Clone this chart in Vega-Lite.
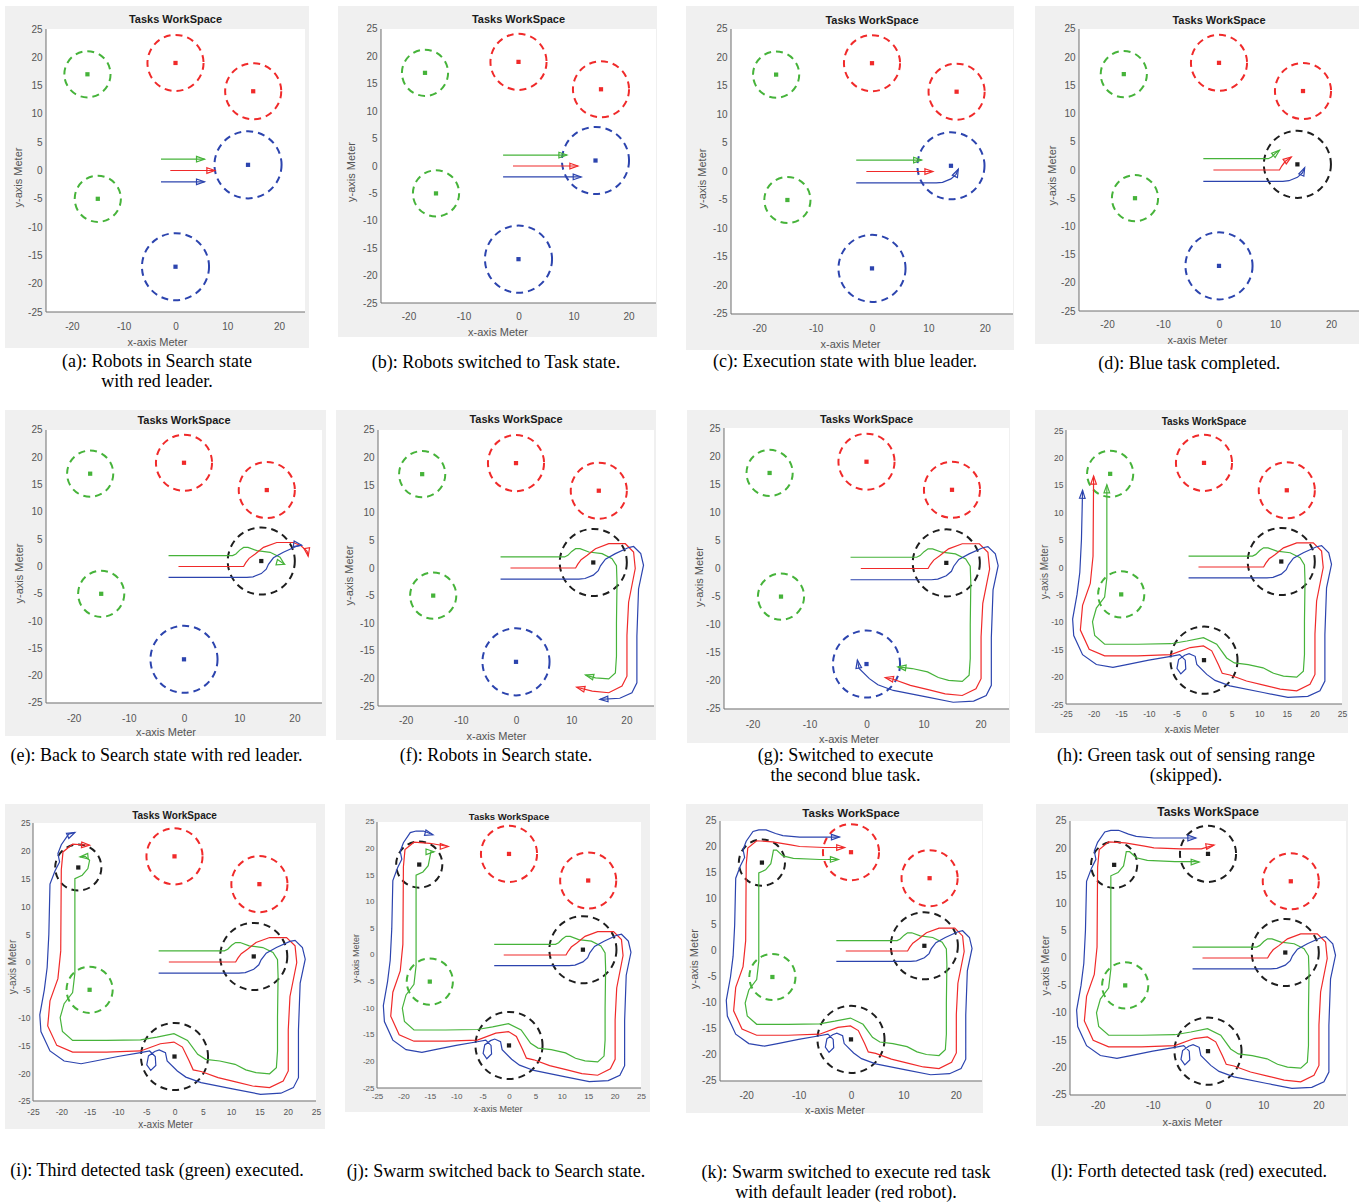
{
"$schema":"https://vega.github.io/schema/vega-lite/v6.json",
"background":"#ffffff",
"padding":{"left":5,"top":6,"right":0,"bottom":0},
"spacing":18,
"config":{"view":{"stroke":null},
"locale":{"number":{"decimal":".","thousands":",","grouping":[3],"currency":["",""],"minus":"-"}},
"axis":{"grid":false,"domain":false,"ticks":false,"labelFont":"Liberation Sans","titleFont":"Liberation Sans","labelColor":"#555555","titleColor":"#555555","titleFontWeight":"normal","labelFlush":false,"labelOverlap":false,"labelFontSize":10,"titleFontSize":11},
"title":{"font":"Liberation Sans","fontWeight":"bold","color":"#1a1a1a","fontSize":11,"anchor":"middle"},
"point":{"opacity":1},"line":{"strokeWidth":1.2}},
"datasets":{
"tasks":[{"x":-17,"y":17,"rad":4.2,"c":"g","k":1,"e":8},{"x":-17,"y":17,"rad":4.2,"c":"k","k":9},{"x":-15,"y":-5,"rad":4.2,"c":"g","k":1},{"x":0,"y":19,"rad":5.1,"c":"r","k":1,"e":11},{"x":0,"y":19,"rad":5.1,"c":"k","k":12},{"x":15,"y":14,"rad":5.1,"c":"r","k":1},{"x":14,"y":1,"rad":6.1,"c":"b","k":1,"e":3},{"x":14,"y":1,"rad":6.1,"c":"k","k":4},{"x":0,"y":-17,"rad":6.1,"c":"b","k":1,"e":7},{"x":0,"y":-17,"rad":6.1,"c":"k","k":8}],
"paths":[
{"c":"g","i":1,"x":-2.8,"y":2,"k":1},{"c":"g","i":2,"x":5.6,"y":2,"k":1},{"c":"g","i":3,"x":8.8,"y":2,"k":2},{"c":"g","i":4,"x":9.4,"y":2.3,"k":4},{"c":"g","i":5,"x":10.1,"y":3.0,"k":4},{"c":"g","i":6,"x":10.8,"y":3.5,"k":4},{"c":"g","i":7,"x":11.6,"y":3.5,"k":5},{"c":"g","i":8,"x":13.2,"y":2.9,"k":5},{"c":"g","i":9,"x":15.6,"y":2.6,"k":5},{"c":"g","i":10,"x":17.4,"y":1.7,"k":5},{"c":"g","i":11,"x":18.2,"y":0.4,"k":5},{"c":"g","i":12,"x":18.3,"y":-2.6,"k":6},{"c":"g","i":13,"x":18.2,"y":-10,"k":6},{"c":"g","i":14,"x":18.2,"y":-16,"k":6},{"c":"g","i":15,"x":18,"y":-19,"k":6},{"c":"g","i":16,"x":16.8,"y":-20.1,"k":6},{"c":"g","i":17,"x":14.4,"y":-19.9,"k":6},{"c":"g","i":18,"x":12.6,"y":-19.4,"k":6},{"c":"g","i":19,"x":10.7,"y":-18.4,"k":7},{"c":"g","i":20,"x":8,"y":-17.8,"k":7},{"c":"g","i":21,"x":5.5,"y":-17.5,"k":7},{"c":"g","i":22,"x":4.1,"y":-16.6,"k":8},{"c":"g","i":23,"x":2.3,"y":-14.1,"k":8},{"c":"g","i":24,"x":-0.1,"y":-12.9,"k":8},{"c":"g","i":25,"x":-3.1,"y":-13.5,"k":8},{"c":"g","i":26,"x":-6,"y":-14,"k":8},{"c":"g","i":27,"x":-12,"y":-14.1,"k":8},{"c":"g","i":28,"x":-18,"y":-14.1,"k":8},{"c":"g","i":29,"x":-19.8,"y":-12.5,"k":8},{"c":"g","i":30,"x":-20.2,"y":-10,"k":8},{"c":"g","i":31,"x":-19.5,"y":-7.5,"k":8},{"c":"g","i":32,"x":-18,"y":-5.5,"k":8},{"c":"g","i":33,"x":-17.6,"y":-2,"k":8},{"c":"g","i":34,"x":-17.6,"y":8,"k":8},{"c":"g","i":35,"x":-17.6,"y":15,"k":8},{"c":"g","i":36,"x":-16.3,"y":15.6,"k":9},{"c":"g","i":37,"x":-15.3,"y":16.8,"k":9},{"c":"g","i":38,"x":-15,"y":18.3,"k":9},{"c":"g","i":39,"x":-15.8,"y":19,"k":9,"e":9},{"c":"g","i":40,"x":-16.7,"y":18.9,"k":9,"e":9},{"c":"g","i":41,"x":-14.8,"y":19.4,"k":10},{"c":"g","i":42,"x":-14.2,"y":19.4,"k":10},{"c":"g","i":43,"x":-13,"y":18.3,"k":11},{"c":"g","i":44,"x":-11,"y":17.8,"k":11},{"c":"g","i":45,"x":-6,"y":17.6,"k":11},{"c":"g","i":46,"x":-2.4,"y":17.6,"k":11},{"c":"g","i":47,"x":-1.6,"y":17.5,"k":12},
{"c":"r","i":1,"x":-1,"y":0,"k":1},{"c":"r","i":2,"x":7.6,"y":0,"k":1},{"c":"r","i":3,"x":10.8,"y":0,"k":2},{"c":"r","i":4,"x":11.2,"y":0.7,"k":4},{"c":"r","i":5,"x":11.8,"y":1.5,"k":4},{"c":"r","i":6,"x":12.9,"y":2.3,"k":4},{"c":"r","i":7,"x":14.4,"y":3.5,"k":5},{"c":"r","i":8,"x":16.8,"y":4.4,"k":5},{"c":"r","i":9,"x":19.8,"y":4.4,"k":5},{"c":"r","i":10,"x":21.2,"y":3.8,"k":5,"e":5},{"c":"r","i":11,"x":22.3,"y":2.8,"k":5,"e":5},{"c":"r","i":12,"x":22.5,"y":1.9,"k":5,"e":5},{"c":"r","i":13,"x":21.3,"y":2.9,"k":6},{"c":"r","i":14,"x":21.6,"y":-0.1,"k":6},{"c":"r","i":15,"x":20.4,"y":-6.2,"k":6},{"c":"r","i":16,"x":20.1,"y":-12.2,"k":6},{"c":"r","i":17,"x":20.1,"y":-19.6,"k":6},{"c":"r","i":18,"x":19.2,"y":-21.4,"k":6},{"c":"r","i":19,"x":16.8,"y":-22.6,"k":6},{"c":"r","i":20,"x":13.8,"y":-22.3,"k":6},{"c":"r","i":21,"x":11,"y":-21.6,"k":6},{"c":"r","i":22,"x":7.7,"y":-20.8,"k":7},{"c":"r","i":23,"x":4.7,"y":-19.7,"k":7},{"c":"r","i":24,"x":3.3,"y":-19.4,"k":7},{"c":"r","i":25,"x":2.6,"y":-17.8,"k":8},{"c":"r","i":26,"x":1.4,"y":-15.3,"k":8},{"c":"r","i":27,"x":-0.1,"y":-14.4,"k":8},{"c":"r","i":28,"x":-2.5,"y":-14.7,"k":8},{"c":"r","i":29,"x":-6,"y":-16,"k":8},{"c":"r","i":30,"x":-12,"y":-16.2,"k":8},{"c":"r","i":31,"x":-18,"y":-16.2,"k":8},{"c":"r","i":32,"x":-20.8,"y":-15,"k":8},{"c":"r","i":33,"x":-22.4,"y":-11.5,"k":8},{"c":"r","i":34,"x":-22,"y":-7,"k":8},{"c":"r","i":35,"x":-20.6,"y":-3,"k":8},{"c":"r","i":36,"x":-20.1,"y":2,"k":8},{"c":"r","i":37,"x":-20,"y":16.6,"k":8},{"c":"r","i":38,"x":-19.7,"y":19.8,"k":9},{"c":"r","i":39,"x":-18,"y":21.2,"k":9},{"c":"r","i":40,"x":-15,"y":21,"k":9},{"c":"r","i":41,"x":-11.5,"y":20.4,"k":10},{"c":"r","i":42,"x":-9.8,"y":20.1,"k":11},{"c":"r","i":43,"x":-5,"y":19.9,"k":11},{"c":"r","i":44,"x":-1.2,"y":19.9,"k":11},{"c":"r","i":45,"x":1.1,"y":20.6,"k":12},
{"c":"b","i":1,"x":-2.8,"y":-2,"k":1},{"c":"b","i":2,"x":5.6,"y":-2,"k":1},{"c":"b","i":3,"x":11.4,"y":-2,"k":2},{"c":"b","i":4,"x":12.5,"y":-1.9,"k":3},{"c":"b","i":5,"x":14,"y":-1.3,"k":3},{"c":"b","i":6,"x":14.9,"y":-0.5,"k":3},{"c":"b","i":7,"x":15.3,"y":0.4,"k":3},{"c":"b","i":8,"x":16.2,"y":1.6,"k":5},{"c":"b","i":9,"x":18,"y":2.6,"k":5},{"c":"b","i":10,"x":20.4,"y":3.7,"k":5},{"c":"b","i":11,"x":21.3,"y":3.9,"k":5},{"c":"b","i":12,"x":22.6,"y":2.6,"k":6},{"c":"b","i":13,"x":23.1,"y":0.5,"k":6},{"c":"b","i":14,"x":22.2,"y":-3.8,"k":6},{"c":"b","i":15,"x":21.9,"y":-12.3,"k":6},{"c":"b","i":16,"x":21.9,"y":-20.8,"k":6},{"c":"b","i":17,"x":21,"y":-22.6,"k":6},{"c":"b","i":18,"x":18.8,"y":-23.6,"k":6},{"c":"b","i":19,"x":15.2,"y":-23.8,"k":6},{"c":"b","i":20,"x":10.7,"y":-22.9,"k":7},{"c":"b","i":21,"x":4.7,"y":-21.7,"k":7},{"c":"b","i":22,"x":2,"y":-20.7,"k":7},{"c":"b","i":23,"x":0.5,"y":-19.6,"k":7},{"c":"b","i":24,"x":-1.3,"y":-17.8,"k":7},{"c":"b","i":25,"x":-1.6,"y":-16.3,"k":7},{"c":"b","i":26,"x":-2.7,"y":-15.8,"k":8},{"c":"b","i":27,"x":-3.5,"y":-16.1,"k":8},{"c":"b","i":28,"x":-4.6,"y":-16.9,"k":8},{"c":"b","i":29,"x":-4.9,"y":-18.5,"k":8},{"c":"b","i":30,"x":-4.2,"y":-19.5,"k":8},{"c":"b","i":31,"x":-3.3,"y":-18.6,"k":8},{"c":"b","i":32,"x":-3.4,"y":-17,"k":8},{"c":"b","i":33,"x":-4.4,"y":-16,"k":8},{"c":"b","i":34,"x":-6,"y":-16.3,"k":8},{"c":"b","i":35,"x":-10,"y":-17,"k":8},{"c":"b","i":36,"x":-14,"y":-17.8,"k":8},{"c":"b","i":37,"x":-16.5,"y":-18.3,"k":8},{"c":"b","i":38,"x":-19.5,"y":-17.8,"k":8},{"c":"b","i":39,"x":-22,"y":-16,"k":8},{"c":"b","i":40,"x":-23.6,"y":-12.5,"k":8},{"c":"b","i":41,"x":-23.8,"y":-9.5,"k":8},{"c":"b","i":42,"x":-23,"y":-5,"k":8},{"c":"b","i":43,"x":-22.5,"y":-1,"k":8},{"c":"b","i":44,"x":-22.2,"y":5,"k":8},{"c":"b","i":45,"x":-22,"y":14,"k":8},{"c":"b","i":46,"x":-21.1,"y":16.4,"k":9},{"c":"b","i":47,"x":-20.3,"y":18,"k":9},{"c":"b","i":48,"x":-20.6,"y":19.5,"k":9},{"c":"b","i":49,"x":-20,"y":21.1,"k":9},{"c":"b","i":50,"x":-18.7,"y":23,"k":9},{"c":"b","i":51,"x":-17.6,"y":23.3,"k":9},{"c":"b","i":52,"x":-16.2,"y":23.3,"k":10},{"c":"b","i":53,"x":-14.4,"y":22.6,"k":10},{"c":"b","i":54,"x":-13,"y":22.2,"k":11},{"c":"b","i":55,"x":-9.8,"y":21.9,"k":11},{"c":"b","i":56,"x":-2.2,"y":21.9,"k":11}],
"heads":[
{"p":1,"c":"g","x":5.6,"y":2,"a":0},{"p":1,"c":"r","x":7.6,"y":0,"a":0},{"p":1,"c":"b","x":5.6,"y":-2,"a":0},
{"p":2,"c":"g","x":8.8,"y":2,"a":0},{"p":2,"c":"r","x":10.8,"y":0,"a":0},{"p":2,"c":"b","x":11.4,"y":-2,"a":0},
{"p":3,"c":"g","x":8.8,"y":2,"a":0},{"p":3,"c":"r","x":10.8,"y":0,"a":0},{"p":3,"c":"b","x":15.3,"y":0.4,"a":-65},
{"p":4,"c":"g","x":10.8,"y":3.5,"a":-40},{"p":4,"c":"r","x":12.9,"y":2.3,"a":-35},{"p":4,"c":"b","x":15.3,"y":0.4,"a":-65},
{"p":5,"c":"g","x":18.2,"y":0.4,"a":15},{"p":5,"c":"r","x":22.5,"y":1.9,"a":80},{"p":5,"c":"b","x":21.3,"y":3.9,"a":10},
{"p":6,"c":"g","x":12.6,"y":-19.4,"a":-165},{"p":6,"c":"r","x":11,"y":-21.6,"a":-166},{"p":6,"c":"b","x":15.2,"y":-23.8,"a":177},
{"p":7,"c":"g","x":5.5,"y":-17.5,"a":-173},{"p":7,"c":"r","x":3.3,"y":-19.4,"a":-168},{"p":7,"c":"b","x":-1.6,"y":-16.3,"a":-100},
{"p":8,"c":"g","x":-17.6,"y":15,"a":-90},{"p":8,"c":"r","x":-20,"y":16.6,"a":-90},{"p":8,"c":"b","x":-22,"y":14,"a":-88},
{"p":9,"c":"g","x":-16.7,"y":18.9,"a":175},{"p":9,"c":"r","x":-15,"y":21,"a":3},{"p":9,"c":"b","x":-17.6,"y":23.3,"a":-25},
{"p":10,"c":"g","x":-14.2,"y":19.4,"a":0},{"p":10,"c":"r","x":-11.5,"y":20.4,"a":0},{"p":10,"c":"b","x":-14.4,"y":22.6,"a":15},
{"p":11,"c":"g","x":-2.4,"y":17.6,"a":0},{"p":11,"c":"r","x":-1.2,"y":19.9,"a":0},{"p":11,"c":"b","x":-2.2,"y":21.9,"a":0},
{"p":12,"c":"g","x":-1.6,"y":17.5,"a":0},{"p":12,"c":"r","x":1.1,"y":20.6,"a":-10},{"p":12,"c":"b","x":-2.2,"y":21.9,"a":0}]
},
"vconcat":[
{"spacing":0,"hconcat":[
{"title":{"text":["(a): Robots in Search state","with red leader."],"anchor":"middle","orient":"bottom","offset":5.3,"dx":0,"font":"Liberation Serif","fontSize":18,"fontWeight":"normal","color":"#000000","lineHeight":20},
"vconcat":[{"width":304,"height":342,"view":{"fill":"#f0f0f0","stroke":null},"title":{"text":"Tasks WorkSpace","offset":-19.3,"dx":18.5,"fontSize":11},
"layer":[
{"data":{"values":[{}]},"mark":{"type":"rect","fill":"#ffffff"},"encoding":{"x":{"datum":-25,"type":"quantitative","scale":{"domain":[-32.915,25.772],"nice":false,"zero":false},"axis":{"title":"x-axis  Meter","values":[-20,-10,0,10,20],"labelOverlap":false,"tickCount":12,"offset":-36,"labelPadding":9,"titlePadding":5}},"x2":{"datum":25},"y":{"datum":-25,"type":"quantitative","scale":{"domain":[-31.36,29.064],"nice":false,"zero":false},"axis":{"title":"y-axis  Meter","values":[-25,-20,-15,-10,-5,0,5,10,15,20,25],"labelOverlap":false,"tickCount":12,"offset":-41,"labelPadding":4,"titlePadding":4}},"y2":{"datum":25}}},
{"data":{"values":[{}]},"mark":{"type":"rule","color":"#6e6e6e"},"encoding":{"x":{"datum":-25,"type":"quantitative"},"x2":{"datum":25},"y":{"datum":-25,"type":"quantitative"}}},
{"data":{"values":[{}]},"mark":{"type":"rule","color":"#6e6e6e"},"encoding":{"x":{"datum":-25,"type":"quantitative"},"y":{"datum":-25,"type":"quantitative"},"y2":{"datum":25}}},
{"encoding":{"x":{"field":"x","type":"quantitative"},"y":{"field":"y","type":"quantitative"},"color":{"field":"c","type":"nominal","scale":{"domain":["g","r","b","k"],"range":["#46b33a","#f02a2a","#2c44ae","#1e1e1e"]},"legend":null}},
"layer":[
{"data":{"name":"tasks"},"transform":[{"filter":"datum.k<=1&&!(datum.e<1)"}],"mark":{"type":"point","shape":"circle","filled":false,"strokeWidth":2,"strokeDash":[7,5]},"encoding":{"size":{"field":"rad","type":"quantitative","scale":{"type":"pow","exponent":2,"domain":[0,10],"range":[0,12100]},"legend":null}}},
{"data":{"name":"tasks"},"transform":[{"filter":"datum.k<=1&&!(datum.e<1)"}],"mark":{"type":"point","shape":"square","filled":true,"size":18}},
{"data":{"name":"paths"},"transform":[{"filter":"datum.k<=1&&!(datum.e<1)"}],"mark":{"type":"line"},"encoding":{"order":{"field":"i","type":"quantitative"}}},
{"data":{"name":"heads"},"transform":[{"filter":"datum.p==1"}],"mark":{"type":"point","shape":"M-2,-0.7L0,0L-2,0.7Z","filled":false,"size":64,"strokeWidth":1.2},"encoding":{"angle":{"field":"a","type":"quantitative","scale":null}}}]}]}]},
{"width":29,"height":1,"data":{"values":[]},"mark":"point"},
{"title":{"text":"(b): Robots switched to Task state.","anchor":"middle","orient":"bottom","offset":16.3,"dx":-1.5,"font":"Liberation Serif","fontSize":18,"fontWeight":"normal","color":"#000000","lineHeight":20},
"vconcat":[{"width":319,"height":331,"view":{"fill":"#f0f0f0","stroke":null},"title":{"text":"Tasks WorkSpace","offset":-19.3,"dx":21,"fontSize":11},
"layer":[
{"data":{"values":[{}]},"mark":{"type":"rect","fill":"#ffffff"},"encoding":{"x":{"datum":-25,"type":"quantitative","scale":{"domain":[-32.818,25.182],"nice":false,"zero":false},"axis":{"title":"x-axis  Meter","values":[-20,-10,0,10,20],"labelOverlap":false,"tickCount":12,"offset":-34,"labelPadding":8.5,"titlePadding":5}},"x2":{"datum":25},"y":{"datum":-25,"type":"quantitative","scale":{"domain":[-31.204,29.197],"nice":false,"zero":false},"axis":{"title":"y-axis  Meter","values":[-25,-20,-15,-10,-5,0,5,10,15,20,25],"labelOverlap":false,"tickCount":12,"offset":-43,"labelPadding":4,"titlePadding":6}},"y2":{"datum":25}}},
{"data":{"values":[{}]},"mark":{"type":"rule","color":"#6e6e6e"},"encoding":{"x":{"datum":-25,"type":"quantitative"},"x2":{"datum":25},"y":{"datum":-25,"type":"quantitative"}}},
{"data":{"values":[{}]},"mark":{"type":"rule","color":"#6e6e6e"},"encoding":{"x":{"datum":-25,"type":"quantitative"},"y":{"datum":-25,"type":"quantitative"},"y2":{"datum":25}}},
{"encoding":{"x":{"field":"x","type":"quantitative"},"y":{"field":"y","type":"quantitative"},"color":{"field":"c","type":"nominal","scale":{"domain":["g","r","b","k"],"range":["#46b33a","#f02a2a","#2c44ae","#1e1e1e"]},"legend":null}},
"layer":[
{"data":{"name":"tasks"},"transform":[{"filter":"datum.k<=2&&!(datum.e<2)"}],"mark":{"type":"point","shape":"circle","filled":false,"strokeWidth":2,"strokeDash":[7,5]},"encoding":{"size":{"field":"rad","type":"quantitative","scale":{"type":"pow","exponent":2,"domain":[0,10],"range":[0,12100]},"legend":null}}},
{"data":{"name":"tasks"},"transform":[{"filter":"datum.k<=2&&!(datum.e<2)"}],"mark":{"type":"point","shape":"square","filled":true,"size":18}},
{"data":{"name":"paths"},"transform":[{"filter":"datum.k<=2&&!(datum.e<2)"}],"mark":{"type":"line"},"encoding":{"order":{"field":"i","type":"quantitative"}}},
{"data":{"name":"heads"},"transform":[{"filter":"datum.p==2"}],"mark":{"type":"point","shape":"M-2,-0.7L0,0L-2,0.7Z","filled":false,"size":64,"strokeWidth":1.2},"encoding":{"angle":{"field":"a","type":"quantitative","scale":null}}}]}]}]},
{"width":29,"height":1,"data":{"values":[]},"mark":"point"},
{"title":{"text":"(c): Execution state with blue leader.","anchor":"middle","orient":"bottom","offset":3.3,"dx":-5,"font":"Liberation Serif","fontSize":18,"fontWeight":"normal","color":"#000000","lineHeight":20},
"vconcat":[{"width":328,"height":344,"view":{"fill":"#f0f0f0","stroke":null},"title":{"text":"Tasks WorkSpace","offset":-20.3,"dx":22,"fontSize":11},
"layer":[
{"data":{"values":[{}]},"mark":{"type":"rect","fill":"#ffffff"},"encoding":{"x":{"datum":-25,"type":"quantitative","scale":{"domain":[-32.979,25.177],"nice":false,"zero":false},"axis":{"title":"x-axis  Meter","values":[-20,-10,0,10,20],"labelOverlap":false,"tickCount":12,"offset":-36,"labelPadding":9,"titlePadding":5.5}},"x2":{"datum":25},"y":{"datum":-25,"type":"quantitative","scale":{"domain":[-31.316,29.035],"nice":false,"zero":false},"axis":{"title":"y-axis  Meter","values":[-25,-20,-15,-10,-5,0,5,10,15,20,25],"labelOverlap":false,"tickCount":12,"offset":-45,"labelPadding":4,"titlePadding":5}},"y2":{"datum":25}}},
{"data":{"values":[{}]},"mark":{"type":"rule","color":"#6e6e6e"},"encoding":{"x":{"datum":-25,"type":"quantitative"},"x2":{"datum":25},"y":{"datum":-25,"type":"quantitative"}}},
{"data":{"values":[{}]},"mark":{"type":"rule","color":"#6e6e6e"},"encoding":{"x":{"datum":-25,"type":"quantitative"},"y":{"datum":-25,"type":"quantitative"},"y2":{"datum":25}}},
{"encoding":{"x":{"field":"x","type":"quantitative"},"y":{"field":"y","type":"quantitative"},"color":{"field":"c","type":"nominal","scale":{"domain":["g","r","b","k"],"range":["#46b33a","#f02a2a","#2c44ae","#1e1e1e"]},"legend":null}},
"layer":[
{"data":{"name":"tasks"},"transform":[{"filter":"datum.k<=3&&!(datum.e<3)"}],"mark":{"type":"point","shape":"circle","filled":false,"strokeWidth":2,"strokeDash":[7,5]},"encoding":{"size":{"field":"rad","type":"quantitative","scale":{"type":"pow","exponent":2,"domain":[0,10],"range":[0,12100]},"legend":null}}},
{"data":{"name":"tasks"},"transform":[{"filter":"datum.k<=3&&!(datum.e<3)"}],"mark":{"type":"point","shape":"square","filled":true,"size":18}},
{"data":{"name":"paths"},"transform":[{"filter":"datum.k<=3&&!(datum.e<3)"}],"mark":{"type":"line"},"encoding":{"order":{"field":"i","type":"quantitative"}}},
{"data":{"name":"heads"},"transform":[{"filter":"datum.p==3"}],"mark":{"type":"point","shape":"M-2,-0.7L0,0L-2,0.7Z","filled":false,"size":64,"strokeWidth":1.2},"encoding":{"angle":{"field":"a","type":"quantitative","scale":null}}}]}]}]},
{"width":21,"height":1,"data":{"values":[]},"mark":"point"},
{"title":{"text":"(d): Blue task completed.","anchor":"middle","orient":"bottom","offset":9.3,"dx":-8,"font":"Liberation Serif","fontSize":18,"fontWeight":"normal","color":"#000000","lineHeight":20},
"vconcat":[{"width":324,"height":338,"view":{"fill":"#f0f0f0","stroke":null},"title":{"text":"Tasks WorkSpace","offset":-19.6,"dx":22,"fontSize":11},
"layer":[
{"data":{"values":[{}]},"mark":{"type":"rect","fill":"#ffffff"},"encoding":{"x":{"datum":-25,"type":"quantitative","scale":{"domain":[-32.857,25],"nice":false,"zero":false},"axis":{"title":"x-axis  Meter","values":[-20,-10,0,10,20],"labelOverlap":false,"tickCount":12,"offset":-33,"labelPadding":8.5,"titlePadding":5}},"x2":{"datum":25},"y":{"datum":-25,"type":"quantitative","scale":{"domain":[-30.851,29.078],"nice":false,"zero":false},"axis":{"title":"y-axis  Meter","values":[-25,-20,-15,-10,-5,0,5,10,15,20,25],"labelOverlap":false,"tickCount":12,"offset":-44,"labelPadding":4,"titlePadding":3.5}},"y2":{"datum":25}}},
{"data":{"values":[{}]},"mark":{"type":"rule","color":"#6e6e6e"},"encoding":{"x":{"datum":-25,"type":"quantitative"},"x2":{"datum":25},"y":{"datum":-25,"type":"quantitative"}}},
{"data":{"values":[{}]},"mark":{"type":"rule","color":"#6e6e6e"},"encoding":{"x":{"datum":-25,"type":"quantitative"},"y":{"datum":-25,"type":"quantitative"},"y2":{"datum":25}}},
{"encoding":{"x":{"field":"x","type":"quantitative"},"y":{"field":"y","type":"quantitative"},"color":{"field":"c","type":"nominal","scale":{"domain":["g","r","b","k"],"range":["#46b33a","#f02a2a","#2c44ae","#1e1e1e"]},"legend":null}},
"layer":[
{"data":{"name":"tasks"},"transform":[{"filter":"datum.k<=4&&!(datum.e<4)"}],"mark":{"type":"point","shape":"circle","filled":false,"strokeWidth":2,"strokeDash":[7,5]},"encoding":{"size":{"field":"rad","type":"quantitative","scale":{"type":"pow","exponent":2,"domain":[0,10],"range":[0,12100]},"legend":null}}},
{"data":{"name":"tasks"},"transform":[{"filter":"datum.k<=4&&!(datum.e<4)"}],"mark":{"type":"point","shape":"square","filled":true,"size":18}},
{"data":{"name":"paths"},"transform":[{"filter":"datum.k<=4&&!(datum.e<4)"}],"mark":{"type":"line"},"encoding":{"order":{"field":"i","type":"quantitative"}}},
{"data":{"name":"heads"},"transform":[{"filter":"datum.p==4"}],"mark":{"type":"point","shape":"M-2,-0.7L0,0L-2,0.7Z","filled":false,"size":64,"strokeWidth":1.2},"encoding":{"angle":{"field":"a","type":"quantitative","scale":null}}}]}]}]}
]},
{"spacing":0,"hconcat":[
{"title":{"text":"(e): Back to Search state with red leader.","anchor":"middle","orient":"bottom","offset":9.8,"dx":-9,"font":"Liberation Serif","fontSize":18,"fontWeight":"normal","color":"#000000","lineHeight":20},
"vconcat":[{"width":321,"height":326,"view":{"fill":"#f0f0f0","stroke":null},"title":{"text":"Tasks WorkSpace","offset":-15.6,"dx":18.5,"fontSize":11},
"layer":[
{"data":{"values":[{}]},"mark":{"type":"rect","fill":"#ffffff"},"encoding":{"x":{"datum":-25,"type":"quantitative","scale":{"domain":[-32.428,25.725],"nice":false,"zero":false},"axis":{"title":"x-axis  Meter","values":[-20,-10,0,10,20],"labelOverlap":false,"tickCount":12,"offset":-33,"labelPadding":10,"titlePadding":3}},"x2":{"datum":25},"y":{"datum":-25,"type":"quantitative","scale":{"domain":[-31.044,28.663],"nice":false,"zero":false},"axis":{"title":"y-axis  Meter","values":[-25,-20,-15,-10,-5,0,5,10,15,20,25],"labelOverlap":false,"tickCount":12,"offset":-41,"labelPadding":4,"titlePadding":3}},"y2":{"datum":25}}},
{"data":{"values":[{}]},"mark":{"type":"rule","color":"#6e6e6e"},"encoding":{"x":{"datum":-25,"type":"quantitative"},"x2":{"datum":25},"y":{"datum":-25,"type":"quantitative"}}},
{"data":{"values":[{}]},"mark":{"type":"rule","color":"#6e6e6e"},"encoding":{"x":{"datum":-25,"type":"quantitative"},"y":{"datum":-25,"type":"quantitative"},"y2":{"datum":25}}},
{"encoding":{"x":{"field":"x","type":"quantitative"},"y":{"field":"y","type":"quantitative"},"color":{"field":"c","type":"nominal","scale":{"domain":["g","r","b","k"],"range":["#46b33a","#f02a2a","#2c44ae","#1e1e1e"]},"legend":null}},
"layer":[
{"data":{"name":"tasks"},"transform":[{"filter":"datum.k<=5&&!(datum.e<5)"}],"mark":{"type":"point","shape":"circle","filled":false,"strokeWidth":2,"strokeDash":[7,5]},"encoding":{"size":{"field":"rad","type":"quantitative","scale":{"type":"pow","exponent":2,"domain":[0,10],"range":[0,12100]},"legend":null}}},
{"data":{"name":"tasks"},"transform":[{"filter":"datum.k<=5&&!(datum.e<5)"}],"mark":{"type":"point","shape":"square","filled":true,"size":18}},
{"data":{"name":"paths"},"transform":[{"filter":"datum.k<=5&&!(datum.e<5)"}],"mark":{"type":"line"},"encoding":{"order":{"field":"i","type":"quantitative"}}},
{"data":{"name":"heads"},"transform":[{"filter":"datum.p==5"}],"mark":{"type":"point","shape":"M-2,-0.7L0,0L-2,0.7Z","filled":false,"size":64,"strokeWidth":1.2},"encoding":{"angle":{"field":"a","type":"quantitative","scale":null}}}]}]}]},
{"width":10,"height":1,"data":{"values":[]},"mark":"point"},
{"title":{"text":"(f): Robots in Search state.","anchor":"middle","orient":"bottom","offset":5.8,"dx":0,"font":"Liberation Serif","fontSize":18,"fontWeight":"normal","color":"#000000","lineHeight":20},
"vconcat":[{"width":320,"height":330,"view":{"fill":"#f0f0f0","stroke":null},"title":{"text":"Tasks WorkSpace","offset":-14.6,"dx":20,"fontSize":11},
"layer":[
{"data":{"values":[{}]},"mark":{"type":"rect","fill":"#ffffff"},"encoding":{"x":{"datum":-25,"type":"quantitative","scale":{"domain":[-32.609,25.362],"nice":false,"zero":false},"axis":{"title":"x-axis  Meter","values":[-20,-10,0,10,20],"labelOverlap":false,"tickCount":12,"offset":-34,"labelPadding":9,"titlePadding":5}},"x2":{"datum":25},"y":{"datum":-25,"type":"quantitative","scale":{"domain":[-31.159,28.623],"nice":false,"zero":false},"axis":{"title":"y-axis  Meter","values":[-25,-20,-15,-10,-5,0,5,10,15,20,25],"labelOverlap":false,"tickCount":12,"offset":-42,"labelPadding":4,"titlePadding":5}},"y2":{"datum":25}}},
{"data":{"values":[{}]},"mark":{"type":"rule","color":"#6e6e6e"},"encoding":{"x":{"datum":-25,"type":"quantitative"},"x2":{"datum":25},"y":{"datum":-25,"type":"quantitative"}}},
{"data":{"values":[{}]},"mark":{"type":"rule","color":"#6e6e6e"},"encoding":{"x":{"datum":-25,"type":"quantitative"},"y":{"datum":-25,"type":"quantitative"},"y2":{"datum":25}}},
{"encoding":{"x":{"field":"x","type":"quantitative"},"y":{"field":"y","type":"quantitative"},"color":{"field":"c","type":"nominal","scale":{"domain":["g","r","b","k"],"range":["#46b33a","#f02a2a","#2c44ae","#1e1e1e"]},"legend":null}},
"layer":[
{"data":{"name":"tasks"},"transform":[{"filter":"datum.k<=6&&!(datum.e<6)"}],"mark":{"type":"point","shape":"circle","filled":false,"strokeWidth":2,"strokeDash":[7,5]},"encoding":{"size":{"field":"rad","type":"quantitative","scale":{"type":"pow","exponent":2,"domain":[0,10],"range":[0,12100]},"legend":null}}},
{"data":{"name":"tasks"},"transform":[{"filter":"datum.k<=6&&!(datum.e<6)"}],"mark":{"type":"point","shape":"square","filled":true,"size":18}},
{"data":{"name":"paths"},"transform":[{"filter":"datum.k<=6&&!(datum.e<6)"}],"mark":{"type":"line"},"encoding":{"order":{"field":"i","type":"quantitative"}}},
{"data":{"name":"heads"},"transform":[{"filter":"datum.p==6"}],"mark":{"type":"point","shape":"M-2,-0.7L0,0L-2,0.7Z","filled":false,"size":64,"strokeWidth":1.2},"encoding":{"angle":{"field":"a","type":"quantitative","scale":null}}}]}]}]},
{"width":31,"height":1,"data":{"values":[]},"mark":"point"},
{"title":{"text":["(g): Switched to execute","the second blue task."],"anchor":"middle","orient":"bottom","offset":2.8,"dx":-3,"font":"Liberation Serif","fontSize":18,"fontWeight":"normal","color":"#000000","lineHeight":20},
"vconcat":[{"width":323,"height":333,"view":{"fill":"#f0f0f0","stroke":null},"title":{"text":"Tasks WorkSpace","offset":-14.6,"dx":18,"fontSize":11},
"layer":[
{"data":{"values":[{}]},"mark":{"type":"rect","fill":"#ffffff"},"encoding":{"x":{"datum":-25,"type":"quantitative","scale":{"domain":[-31.491,25.175],"nice":false,"zero":false},"axis":{"title":"x-axis  Meter","values":[-20,-10,0,10,20],"labelOverlap":false,"tickCount":12,"offset":-34,"labelPadding":10.5,"titlePadding":4}},"x2":{"datum":25},"y":{"datum":-25,"type":"quantitative","scale":{"domain":[-31.05,28.203],"nice":false,"zero":false},"axis":{"title":"y-axis  Meter","values":[-25,-20,-15,-10,-5,0,5,10,15,20,25],"labelOverlap":false,"tickCount":12,"offset":-37,"labelPadding":4,"titlePadding":1}},"y2":{"datum":25}}},
{"data":{"values":[{}]},"mark":{"type":"rule","color":"#6e6e6e"},"encoding":{"x":{"datum":-25,"type":"quantitative"},"x2":{"datum":25},"y":{"datum":-25,"type":"quantitative"}}},
{"data":{"values":[{}]},"mark":{"type":"rule","color":"#6e6e6e"},"encoding":{"x":{"datum":-25,"type":"quantitative"},"y":{"datum":-25,"type":"quantitative"},"y2":{"datum":25}}},
{"encoding":{"x":{"field":"x","type":"quantitative"},"y":{"field":"y","type":"quantitative"},"color":{"field":"c","type":"nominal","scale":{"domain":["g","r","b","k"],"range":["#46b33a","#f02a2a","#2c44ae","#1e1e1e"]},"legend":null}},
"layer":[
{"data":{"name":"tasks"},"transform":[{"filter":"datum.k<=7&&!(datum.e<7)"}],"mark":{"type":"point","shape":"circle","filled":false,"strokeWidth":2,"strokeDash":[7,5]},"encoding":{"size":{"field":"rad","type":"quantitative","scale":{"type":"pow","exponent":2,"domain":[0,10],"range":[0,12100]},"legend":null}}},
{"data":{"name":"tasks"},"transform":[{"filter":"datum.k<=7&&!(datum.e<7)"}],"mark":{"type":"point","shape":"square","filled":true,"size":18}},
{"data":{"name":"paths"},"transform":[{"filter":"datum.k<=7&&!(datum.e<7)"}],"mark":{"type":"line"},"encoding":{"order":{"field":"i","type":"quantitative"}}},
{"data":{"name":"heads"},"transform":[{"filter":"datum.p==7"}],"mark":{"type":"point","shape":"M-2,-0.7L0,0L-2,0.7Z","filled":false,"size":64,"strokeWidth":1.2},"encoding":{"angle":{"field":"a","type":"quantitative","scale":null}}}]}]}]},
{"width":25,"height":1,"data":{"values":[]},"mark":"point"},
{"title":{"text":["(h): Green task out of sensing range","(skipped)."],"anchor":"middle","orient":"bottom","offset":12.8,"dx":-5.5,"font":"Liberation Serif","fontSize":18,"fontWeight":"normal","color":"#000000","lineHeight":20},
"vconcat":[{"width":313,"height":323,"view":{"fill":"#f0f0f0","stroke":null},"title":{"text":"Tasks WorkSpace","offset":-17.4,"dx":12.5,"fontSize":10},
"layer":[
{"data":{"values":[{}]},"mark":{"type":"rect","fill":"#ffffff"},"encoding":{"x":{"datum":-25,"type":"quantitative","scale":{"domain":[-30.616,26.087],"nice":false,"zero":false},"axis":{"title":"x-axis  Meter","values":[-25,-20,-15,-10,-5,0,5,10,15,20,25],"labelOverlap":false,"tickCount":12,"offset":-29,"labelPadding":5,"titlePadding":7,"labelFontSize":8.5,"titleFontSize":10}},"x2":{"datum":25},"y":{"datum":-25,"type":"quantitative","scale":{"domain":[-30.292,28.65],"nice":false,"zero":false},"axis":{"title":"y-axis  Meter","values":[-25,-20,-15,-10,-5,0,5,10,15,20,25],"labelOverlap":false,"tickCount":12,"offset":-31,"labelPadding":3,"titlePadding":1,"labelFontSize":8.5,"titleFontSize":10}},"y2":{"datum":25}}},
{"data":{"values":[{}]},"mark":{"type":"rule","color":"#6e6e6e"},"encoding":{"x":{"datum":-25,"type":"quantitative"},"x2":{"datum":25},"y":{"datum":-25,"type":"quantitative"}}},
{"data":{"values":[{}]},"mark":{"type":"rule","color":"#6e6e6e"},"encoding":{"x":{"datum":-25,"type":"quantitative"},"y":{"datum":-25,"type":"quantitative"},"y2":{"datum":25}}},
{"encoding":{"x":{"field":"x","type":"quantitative"},"y":{"field":"y","type":"quantitative"},"color":{"field":"c","type":"nominal","scale":{"domain":["g","r","b","k"],"range":["#46b33a","#f02a2a","#2c44ae","#1e1e1e"]},"legend":null}},
"layer":[
{"data":{"name":"tasks"},"transform":[{"filter":"datum.k<=8&&!(datum.e<8)"}],"mark":{"type":"point","shape":"circle","filled":false,"strokeWidth":2,"strokeDash":[7,5]},"encoding":{"size":{"field":"rad","type":"quantitative","scale":{"type":"pow","exponent":2,"domain":[0,10],"range":[0,12100]},"legend":null}}},
{"data":{"name":"tasks"},"transform":[{"filter":"datum.k<=8&&!(datum.e<8)"}],"mark":{"type":"point","shape":"square","filled":true,"size":18}},
{"data":{"name":"paths"},"transform":[{"filter":"datum.k<=8&&!(datum.e<8)"}],"mark":{"type":"line"},"encoding":{"order":{"field":"i","type":"quantitative"}}},
{"data":{"name":"heads"},"transform":[{"filter":"datum.p==8"}],"mark":{"type":"point","shape":"M-2,-0.7L0,0L-2,0.7Z","filled":false,"size":64,"strokeWidth":1.2},"encoding":{"angle":{"field":"a","type":"quantitative","scale":null}}}]}]}]}
]},
{"spacing":0,"hconcat":[
{"title":{"text":"(i): Third detected task (green) executed.","anchor":"middle","orient":"bottom","offset":32.8,"dx":-8,"font":"Liberation Serif","fontSize":18,"fontWeight":"normal","color":"#000000","lineHeight":20},
"vconcat":[{"width":320,"height":325,"view":{"fill":"#f0f0f0","stroke":null},"title":{"text":"Tasks WorkSpace","offset":-16.7,"dx":9.5,"fontSize":10},
"layer":[
{"data":{"values":[{}]},"mark":{"type":"rect","fill":"#ffffff"},"encoding":{"x":{"datum":-25,"type":"quantitative","scale":{"domain":[-29.947,26.59],"nice":false,"zero":false},"axis":{"title":"x-axis  Meter","values":[-25,-20,-15,-10,-5,0,5,10,15,20,25],"labelOverlap":false,"tickCount":12,"offset":-28,"labelPadding":6,"titlePadding":3.5,"labelFontSize":8.5,"titleFontSize":10}},"x2":{"datum":25},"y":{"datum":-25,"type":"quantitative","scale":{"domain":[-30.036,28.417],"nice":false,"zero":false},"axis":{"title":"y-axis  Meter","values":[-25,-20,-15,-10,-5,0,5,10,15,20,25],"labelOverlap":false,"tickCount":12,"offset":-28,"labelPadding":3,"titlePadding":0,"labelFontSize":8.5,"titleFontSize":10}},"y2":{"datum":25}}},
{"data":{"values":[{}]},"mark":{"type":"rule","color":"#6e6e6e"},"encoding":{"x":{"datum":-25,"type":"quantitative"},"x2":{"datum":25},"y":{"datum":-25,"type":"quantitative"}}},
{"data":{"values":[{}]},"mark":{"type":"rule","color":"#6e6e6e"},"encoding":{"x":{"datum":-25,"type":"quantitative"},"y":{"datum":-25,"type":"quantitative"},"y2":{"datum":25}}},
{"encoding":{"x":{"field":"x","type":"quantitative"},"y":{"field":"y","type":"quantitative"},"color":{"field":"c","type":"nominal","scale":{"domain":["g","r","b","k"],"range":["#46b33a","#f02a2a","#2c44ae","#1e1e1e"]},"legend":null}},
"layer":[
{"data":{"name":"tasks"},"transform":[{"filter":"datum.k<=9&&!(datum.e<9)"}],"mark":{"type":"point","shape":"circle","filled":false,"strokeWidth":2,"strokeDash":[7,5]},"encoding":{"size":{"field":"rad","type":"quantitative","scale":{"type":"pow","exponent":2,"domain":[0,10],"range":[0,12100]},"legend":null}}},
{"data":{"name":"tasks"},"transform":[{"filter":"datum.k<=9&&!(datum.e<9)"}],"mark":{"type":"point","shape":"square","filled":true,"size":18}},
{"data":{"name":"paths"},"transform":[{"filter":"datum.k<=9&&!(datum.e<9)"}],"mark":{"type":"line"},"encoding":{"order":{"field":"i","type":"quantitative"}}},
{"data":{"name":"heads"},"transform":[{"filter":"datum.p==9"}],"mark":{"type":"point","shape":"M-2,-0.7L0,0L-2,0.7Z","filled":false,"size":64,"strokeWidth":1.2},"encoding":{"angle":{"field":"a","type":"quantitative","scale":null}}}]}]}]},
{"width":20,"height":1,"data":{"values":[]},"mark":"point"},
{"title":{"text":"(j): Swarm switched back to Search state.","anchor":"middle","orient":"bottom","offset":49.8,"dx":-1.5,"font":"Liberation Serif","fontSize":18,"fontWeight":"normal","color":"#000000","lineHeight":20},
"vconcat":[{"width":305,"height":308,"view":{"fill":"#f0f0f0","stroke":null},"title":{"text":"Tasks WorkSpace","offset":-17.7,"dx":11.5,"fontSize":9.5},
"layer":[
{"data":{"values":[{}]},"mark":{"type":"rect","fill":"#ffffff"},"encoding":{"x":{"datum":-25,"type":"quantitative","scale":{"domain":[-31.061,26.705],"nice":false,"zero":false},"axis":{"title":"x-axis  Meter","values":[-25,-20,-15,-10,-5,0,5,10,15,20,25],"labelOverlap":false,"tickCount":12,"offset":-24,"labelPadding":4.5,"titlePadding":3.5,"labelFontSize":8,"titleFontSize":9}},"x2":{"datum":25},"y":{"datum":-25,"type":"quantitative","scale":{"domain":[-29.511,28.383],"nice":false,"zero":false},"axis":{"title":"y-axis  Meter","values":[-25,-20,-15,-10,-5,0,5,10,15,20,25],"labelOverlap":false,"tickCount":12,"offset":-32,"labelPadding":3,"titlePadding":2,"labelFontSize":8,"titleFontSize":9}},"y2":{"datum":25}}},
{"data":{"values":[{}]},"mark":{"type":"rule","color":"#6e6e6e"},"encoding":{"x":{"datum":-25,"type":"quantitative"},"x2":{"datum":25},"y":{"datum":-25,"type":"quantitative"}}},
{"data":{"values":[{}]},"mark":{"type":"rule","color":"#6e6e6e"},"encoding":{"x":{"datum":-25,"type":"quantitative"},"y":{"datum":-25,"type":"quantitative"},"y2":{"datum":25}}},
{"encoding":{"x":{"field":"x","type":"quantitative"},"y":{"field":"y","type":"quantitative"},"color":{"field":"c","type":"nominal","scale":{"domain":["g","r","b","k"],"range":["#46b33a","#f02a2a","#2c44ae","#1e1e1e"]},"legend":null}},
"layer":[
{"data":{"name":"tasks"},"transform":[{"filter":"datum.k<=10&&!(datum.e<10)"}],"mark":{"type":"point","shape":"circle","filled":false,"strokeWidth":2,"strokeDash":[7,5]},"encoding":{"size":{"field":"rad","type":"quantitative","scale":{"type":"pow","exponent":2,"domain":[0,10],"range":[0,12100]},"legend":null}}},
{"data":{"name":"tasks"},"transform":[{"filter":"datum.k<=10&&!(datum.e<10)"}],"mark":{"type":"point","shape":"square","filled":true,"size":18}},
{"data":{"name":"paths"},"transform":[{"filter":"datum.k<=10&&!(datum.e<10)"}],"mark":{"type":"line"},"encoding":{"order":{"field":"i","type":"quantitative"}}},
{"data":{"name":"heads"},"transform":[{"filter":"datum.p==10"}],"mark":{"type":"point","shape":"M-2,-0.7L0,0L-2,0.7Z","filled":false,"size":64,"strokeWidth":1.2},"encoding":{"angle":{"field":"a","type":"quantitative","scale":null}}}]}]}]},
{"width":36,"height":1,"data":{"values":[]},"mark":"point"},
{"title":{"text":["(k): Swarm switched to execute red task","with default leader (red robot)."],"anchor":"middle","orient":"bottom","offset":48.8,"dx":11.5,"font":"Liberation Serif","fontSize":18,"fontWeight":"normal","color":"#000000","lineHeight":20},
"vconcat":[{"width":297,"height":309,"view":{"fill":"#f0f0f0","stroke":null},"title":{"text":"Tasks WorkSpace","offset":-15.6,"dx":16.5,"fontSize":11.5},
"layer":[
{"data":{"values":[{}]},"mark":{"type":"rect","fill":"#ffffff"},"encoding":{"x":{"datum":-25,"type":"quantitative","scale":{"domain":[-31.489,25.191],"nice":false,"zero":false},"axis":{"title":"x-axis Meter","values":[-20,-10,0,10,20],"labelOverlap":false,"tickCount":12,"offset":-32,"labelPadding":9,"titlePadding":4}},"x2":{"datum":25},"y":{"datum":-25,"type":"quantitative","scale":{"domain":[-31.154,28.269],"nice":false,"zero":false},"axis":{"title":"y-axis Meter","values":[-25,-20,-15,-10,-5,0,5,10,15,20,25],"labelOverlap":false,"tickCount":12,"offset":-34,"labelPadding":4,"titlePadding":2}},"y2":{"datum":25}}},
{"data":{"values":[{}]},"mark":{"type":"rule","color":"#6e6e6e"},"encoding":{"x":{"datum":-25,"type":"quantitative"},"x2":{"datum":25},"y":{"datum":-25,"type":"quantitative"}}},
{"data":{"values":[{}]},"mark":{"type":"rule","color":"#6e6e6e"},"encoding":{"x":{"datum":-25,"type":"quantitative"},"y":{"datum":-25,"type":"quantitative"},"y2":{"datum":25}}},
{"encoding":{"x":{"field":"x","type":"quantitative"},"y":{"field":"y","type":"quantitative"},"color":{"field":"c","type":"nominal","scale":{"domain":["g","r","b","k"],"range":["#46b33a","#f02a2a","#2c44ae","#1e1e1e"]},"legend":null}},
"layer":[
{"data":{"name":"tasks"},"transform":[{"filter":"datum.k<=11&&!(datum.e<11)"}],"mark":{"type":"point","shape":"circle","filled":false,"strokeWidth":2,"strokeDash":[7,5]},"encoding":{"size":{"field":"rad","type":"quantitative","scale":{"type":"pow","exponent":2,"domain":[0,10],"range":[0,12100]},"legend":null}}},
{"data":{"name":"tasks"},"transform":[{"filter":"datum.k<=11&&!(datum.e<11)"}],"mark":{"type":"point","shape":"square","filled":true,"size":18}},
{"data":{"name":"paths"},"transform":[{"filter":"datum.k<=11&&!(datum.e<11)"}],"mark":{"type":"line"},"encoding":{"order":{"field":"i","type":"quantitative"}}},
{"data":{"name":"heads"},"transform":[{"filter":"datum.p==11"}],"mark":{"type":"point","shape":"M-2,-0.7L0,0L-2,0.7Z","filled":false,"size":64,"strokeWidth":1.2},"encoding":{"angle":{"field":"a","type":"quantitative","scale":null}}}]}]}]},
{"width":44.5,"height":1,"data":{"values":[]},"mark":"point"},
{"title":{"text":"(l): Forth detected task (red) executed.","anchor":"middle","orient":"bottom","offset":35.8,"dx":-3,"font":"Liberation Serif","fontSize":18,"fontWeight":"normal","color":"#000000","lineHeight":20},
"vconcat":[{"width":312,"height":322,"view":{"fill":"#f0f0f0","stroke":null},"title":{"text":"Tasks WorkSpace","offset":-15.1,"dx":16,"fontSize":12},
"layer":[
{"data":{"values":[{}]},"mark":{"type":"rect","fill":"#ffffff"},"encoding":{"x":{"datum":-25,"type":"quantitative","scale":{"domain":[-31.159,25.362],"nice":false,"zero":false},"axis":{"title":"x-axis Meter","values":[-20,-10,0,10,20],"labelOverlap":false,"tickCount":12,"offset":-31,"labelPadding":5,"titlePadding":6}},"x2":{"datum":25},"y":{"datum":-25,"type":"quantitative","scale":{"domain":[-30.657,28.102],"nice":false,"zero":false},"axis":{"title":"y-axis Meter","values":[-25,-20,-15,-10,-5,0,5,10,15,20,25],"labelOverlap":false,"tickCount":12,"offset":-34,"labelPadding":4,"titlePadding":1}},"y2":{"datum":25}}},
{"data":{"values":[{}]},"mark":{"type":"rule","color":"#6e6e6e"},"encoding":{"x":{"datum":-25,"type":"quantitative"},"x2":{"datum":25},"y":{"datum":-25,"type":"quantitative"}}},
{"data":{"values":[{}]},"mark":{"type":"rule","color":"#6e6e6e"},"encoding":{"x":{"datum":-25,"type":"quantitative"},"y":{"datum":-25,"type":"quantitative"},"y2":{"datum":25}}},
{"encoding":{"x":{"field":"x","type":"quantitative"},"y":{"field":"y","type":"quantitative"},"color":{"field":"c","type":"nominal","scale":{"domain":["g","r","b","k"],"range":["#46b33a","#f02a2a","#2c44ae","#1e1e1e"]},"legend":null}},
"layer":[
{"data":{"name":"tasks"},"transform":[{"filter":"datum.k<=12&&!(datum.e<12)"}],"mark":{"type":"point","shape":"circle","filled":false,"strokeWidth":2,"strokeDash":[7,5]},"encoding":{"size":{"field":"rad","type":"quantitative","scale":{"type":"pow","exponent":2,"domain":[0,10],"range":[0,12100]},"legend":null}}},
{"data":{"name":"tasks"},"transform":[{"filter":"datum.k<=12&&!(datum.e<12)"}],"mark":{"type":"point","shape":"square","filled":true,"size":18}},
{"data":{"name":"paths"},"transform":[{"filter":"datum.k<=12&&!(datum.e<12)"}],"mark":{"type":"line"},"encoding":{"order":{"field":"i","type":"quantitative"}}},
{"data":{"name":"heads"},"transform":[{"filter":"datum.p==12"}],"mark":{"type":"point","shape":"M-2,-0.7L0,0L-2,0.7Z","filled":false,"size":64,"strokeWidth":1.2},"encoding":{"angle":{"field":"a","type":"quantitative","scale":null}}}]}]}]}
]}
]
}
